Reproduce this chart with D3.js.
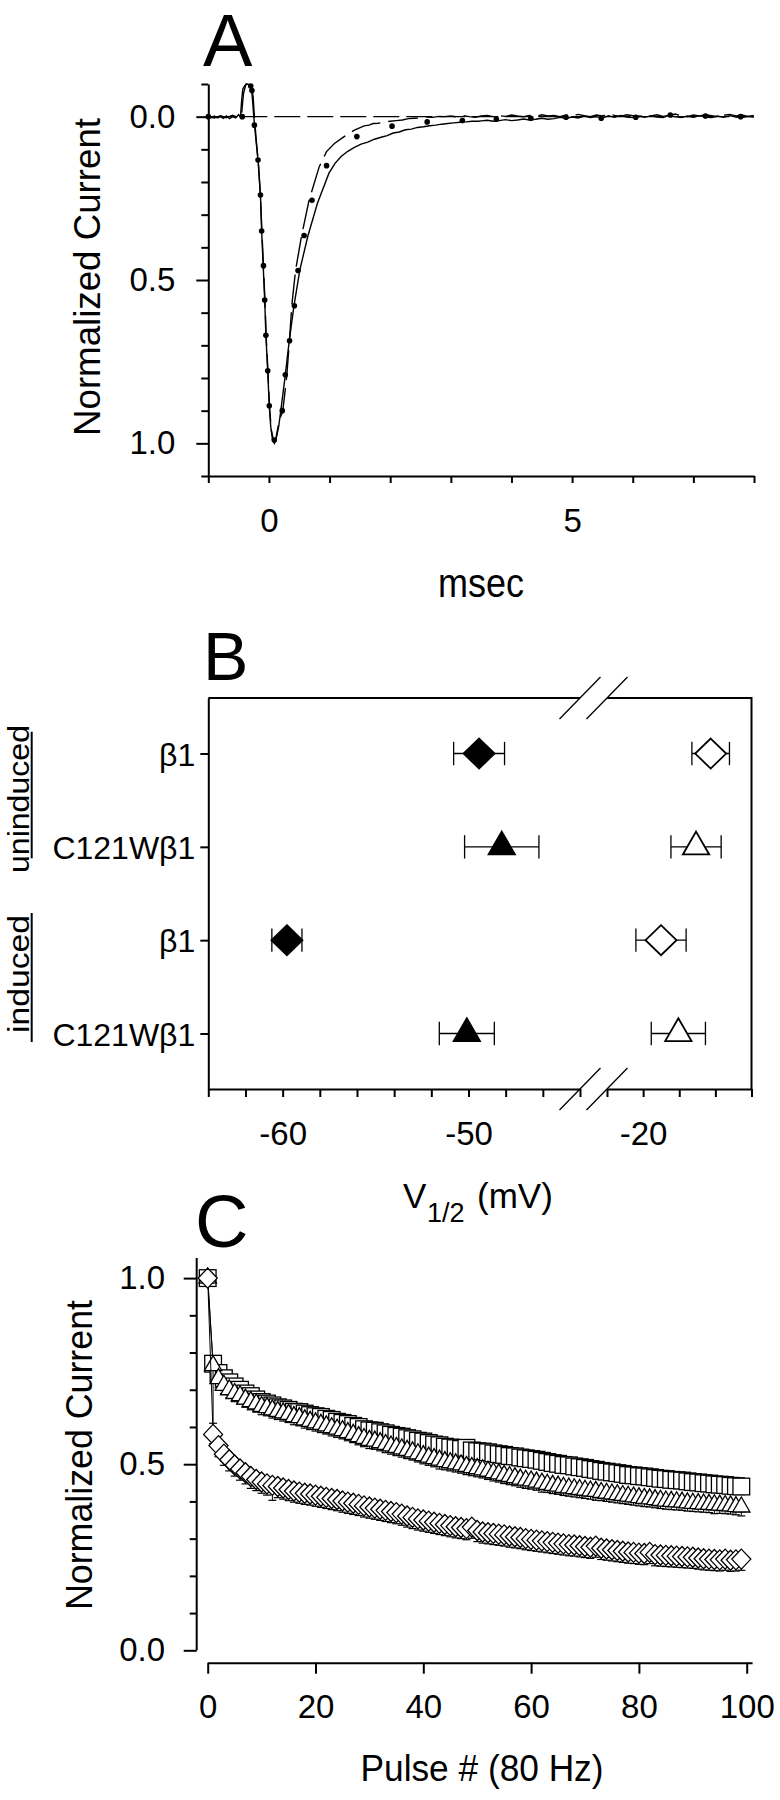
<!DOCTYPE html>
<html><head><meta charset="utf-8">
<script src="https://cdn.jsdelivr.net/npm/d3@7"></script>
<style>
body{margin:0;background:#fff}
svg{display:block;background:#fff}
text{font-family:"Liberation Sans",Arial,Helvetica,sans-serif;fill:#000}
</style>
</head><body>
<svg id="fig" width="780" height="1800"></svg>
<script>
// ---------------- DATA ----------------
// Panel A: normalized current traces (msec, normalized current; positive = inward, plotted downward)
const slowT = [-1.0,-0.95,-0.9,-0.85,-0.8,-0.75,-0.7,-0.65,-0.6,-0.55,-0.5,-0.47,-0.45,-0.43,-0.40,-0.36,-0.32,-0.29,-0.27,-0.25,-0.22,-0.18,-0.14,-0.12,-0.095,-0.07,-0.05,-0.02,0.005,0.03,0.06,0.09,0.12,0.16,0.19,0.26,0.33,0.41,0.51,0.64,0.80,0.99,1.09,1.19,1.30,1.41,1.52,1.63,1.74,1.85,1.95,2.05,2.15,2.25,2.35,2.45,2.55,2.65,2.75,2.85,2.95,3.05,3.15,3.25,3.35,3.45,3.5,3.6,3.7,3.8,3.9,4.0,4.1,4.2,4.3,4.4,4.5,4.6,4.7,4.8,4.9,5.0,5.1,5.2,5.3,5.4,5.5,5.6,5.7,5.8,5.9,6.0,6.1,6.2,6.3,6.4,6.5,6.6,6.7,6.8,6.9,7.0,7.1,7.2,7.3,7.4,7.5,7.6,7.7,7.8,7.9,8.0];
const slowI = [0.0,0.003,-0.002,0.004,0.0,0.005,-0.002,0.006,0.0,0.004,-0.006,0.002,-0.05,-0.085,-0.095,-0.1,-0.098,-0.09,-0.05,0.0,0.06,0.135,0.24,0.35,0.455,0.56,0.67,0.78,0.885,0.95,0.99,1.0,0.985,0.95,0.908,0.806,0.694,0.582,0.469,0.367,0.265,0.173,0.143,0.122,0.106,0.094,0.084,0.078,0.069,0.063,0.058,0.050,0.047,0.040,0.038,0.033,0.031,0.028,0.026,0.023,0.021,0.019,0.017,0.016,0.014,0.014,0.013,0.011,0.014,0.012,0.009,0.012,0.010,0.007,0.010,0.008,0.005,0.008,0.006,0.002,0.005,0.001,0.004,-0.002,0.003,0.000,0.004,-0.003,0.002,-0.004,0.001,0.003,-0.002,0.002,-0.003,0.001,0.003,-0.004,0.000,0.003,-0.002,0.002,-0.003,0.001,0.003,-0.002,0.002,-0.003,0.001,0.003,-0.001,0.001];
const fastT = [-1.0,-0.9,-0.8,-0.7,-0.6,-0.5,-0.45,-0.42,-0.38,-0.33,-0.29,-0.26,-0.24,-0.21,-0.17,-0.14,-0.115,-0.09,-0.065,-0.045,-0.015,0.01,0.04,0.08,0.11,0.15,0.19,0.227,0.293,0.337,0.376,0.44,0.536,0.663,0.83,0.95,1.08,1.24,1.41,1.57,1.65,1.72,1.8,1.9,2.0,2.1,2.2,2.3,2.4,2.5,2.6,2.7,2.8,2.9,3.0,3.1,3.2,3.3,3.4,3.5,3.6,3.7,3.8,3.9,4.0,4.1,4.2,4.3,4.4,4.5,4.6,4.7,4.8,4.9,5.0,5.1,5.2,5.3,5.4,5.5,5.6,5.7,5.8,5.9,6.0,6.1,6.2,6.3,6.4,6.5,6.6,6.7,6.8,6.9,7.0,7.1,7.2,7.3,7.4,7.5,7.6,7.7,7.8,7.9,8.0];
const fastI = [0.0,0.004,-0.003,0.003,-0.004,0.003,-0.01,-0.07,-0.1,-0.102,-0.095,-0.06,0.0,0.07,0.15,0.245,0.355,0.46,0.565,0.675,0.785,0.89,0.96,0.995,0.99,0.95,0.92,0.903,0.796,0.689,0.58,0.469,0.367,0.255,0.153,0.107,0.082,0.061,0.041,0.028,0.026,0.021,0.020,0.017,0.014,0.012,0.010,0.006,0.005,0.004,0.001,0.002,-0.001,0.000,-0.002,0.001,-0.003,0.000,0.002,-0.002,-0.004,0.000,-0.003,-0.001,-0.005,-0.002,0.000,-0.004,-0.001,-0.006,-0.002,-0.004,0.000,-0.005,-0.002,-0.007,-0.003,0.000,-0.005,-0.002,-0.008,-0.004,-0.001,-0.006,-0.003,0.000,-0.005,-0.002,-0.006,-0.001,-0.004,-0.008,-0.003,0.000,-0.005,-0.002,-0.006,-0.003,0.000,-0.004,-0.007,-0.002,-0.005,-0.001,-0.004];
const dotT = [-1.0,-0.44,-0.30,-0.28,-0.24,-0.18,-0.14,-0.12,-0.09,-0.07,-0.05,-0.02,0.006,0.088,0.22,0.27,0.34,0.42,0.48,0.58,0.71,0.95,1.45,2.03,2.61,3.19,3.75,4.32,4.9,5.48,6.05,6.62,7.2,7.78];
const dotI = [0.0,0.0,-0.094,-0.08,0.026,0.133,0.24,0.35,0.456,0.561,0.669,0.778,0.885,0.99,0.90,0.79,0.686,0.579,0.471,0.364,0.256,0.15,0.061,0.029,0.016,0.012,0.008,0.005,0.002,0.005,0.002,-0.005,-0.002,0.0];
const aYMajor = [0, 0.5, 1.0];
const aYMinor = [-0.1,0.1,0.2,0.3,0.4,0.6,0.7,0.8,0.9,1.1];
const aXTicks = [-1,0,1,2,3,4,5,6,7,8];
const aXLabels = [0, 5];

// Panel B: V1/2 (mV), activation (filled) and inactivation (open)
const rowLabels = ["β1","C121Wβ1","β1","C121Wβ1"];
const rowShape  = ["diamond","triangle","diamond","triangle"];
const actMean   = [-49.43,-48.21,-59.77,-50.09];
const actErr    = [1.37,2.0,0.81,1.48];
const inactMean = [-16.26,-17.07,-19.01,-18.05];
const inactErr  = [1.04,1.39,1.39,1.5];
const bLeftTicks = [-64,-62,-60,-58,-56,-54,-52,-50,-48,-46,-44];
const bRightTicks = [-22,-20,-18,-16,-14];
const bTickLabels = [-60,-50,-20];

// Panel C: normalized current vs pulse number (80 Hz)
const pulses = d3.range(0, 100);
const sqMean = [1.000,0.770,0.745,0.731,0.720,0.709,0.700,0.690,0.683,0.674,0.667,0.663,0.658,0.653,0.650,0.646,0.641,0.640,0.636,0.632,
0.629,0.627,0.622,0.619,0.614,0.611,0.608,0.603,0.600,0.594,0.591,0.590,0.586,0.583,0.579,0.576,0.574,0.570,0.567,0.563,
0.561,0.557,0.553,0.551,0.547,0.545,0.543,0.541,0.544,0.537,0.535,0.534,0.532,0.529,0.527,0.525,0.522,0.521,0.518,0.516,
0.514,0.512,0.509,0.506,0.503,0.501,0.498,0.497,0.494,0.492,0.490,0.487,0.485,0.482,0.480,0.478,0.476,0.474,0.471,0.470,
0.468,0.467,0.465,0.463,0.461,0.460,0.458,0.457,0.456,0.454,0.452,0.451,0.449,0.448,0.446,0.445,0.444,0.442,0.441,0.440];
const trMean = [1.000,0.765,0.730,0.712,0.700,0.690,0.684,0.675,0.668,0.662,0.655,0.652,0.646,0.642,0.638,0.634,0.628,0.625,0.619,0.615,
0.611,0.607,0.603,0.598,0.594,0.590,0.585,0.580,0.574,0.569,0.564,0.562,0.558,0.553,0.549,0.545,0.541,0.537,0.533,0.528,
0.523,0.519,0.515,0.511,0.507,0.504,0.501,0.498,0.494,0.491,0.488,0.485,0.481,0.477,0.474,0.470,0.467,0.464,0.460,0.457,
0.455,0.452,0.449,0.446,0.443,0.441,0.438,0.436,0.434,0.432,0.430,0.428,0.427,0.424,0.422,0.420,0.418,0.416,0.414,0.412,
0.410,0.408,0.407,0.405,0.403,0.401,0.400,0.399,0.398,0.396,0.395,0.394,0.393,0.392,0.391,0.390,0.389,0.388,0.386,0.385];
const dmMean = [1.000,0.580,0.550,0.527,0.512,0.498,0.487,0.477,0.467,0.459,0.452,0.447,0.443,0.440,0.436,0.432,0.428,0.425,0.422,0.420,
0.417,0.414,0.411,0.408,0.405,0.401,0.398,0.395,0.392,0.388,0.385,0.382,0.379,0.376,0.373,0.370,0.366,0.361,0.357,0.353,
0.350,0.347,0.344,0.341,0.338,0.335,0.332,0.330,0.327,0.331,0.322,0.318,0.316,0.314,0.312,0.310,0.307,0.305,0.303,0.300,
0.298,0.296,0.294,0.292,0.290,0.288,0.286,0.284,0.283,0.281,0.279,0.277,0.280,0.274,0.272,0.270,0.268,0.266,0.264,0.263,
0.261,0.260,0.263,0.257,0.256,0.255,0.254,0.253,0.252,0.251,0.250,0.248,0.246,0.245,0.244,0.243,0.245,0.242,0.243,0.245];
const sqErr = [0,0.02,0.02,0.02,0.02,0.02,0.02,0.02,0.02,0.02,0.02,0.02,0.02,0.02,0.02,0.02,0.02,0.02,0.02,0.02,
0.02,0.02,0.02,0.02,0.02,0.02,0.02,0.02,0.02,0.02,0.02,0.02,0.02,0.02,0.02,0.02,0.02,0.02,0.02,0.02,
0.02,0.02,0.02,0.02,0.02,0.02,0.02,0.02,0.02,0.02,0.02,0.02,0.02,0.02,0.02,0.02,0.02,0.02,0.02,0.02,
0.02,0.02,0.02,0.02,0.02,0.02,0.02,0.02,0.02,0.02,0.02,0.02,0.02,0.02,0.02,0.02,0.02,0.02,0.02,0.02,
0.02,0.02,0.02,0.02,0.02,0.02,0.02,0.02,0.02,0.02,0.02,0.02,0.02,0.02,0.02,0.02,0.02,0.02,0.02,0.02];
const trErr = [0,0.155,0.025,0.022,0.022,0.022,0.022,0.022,0.022,0.022,0.022,0.022,0.022,0.022,0.022,0.022,0.022,0.022,0.022,0.022,
0.022,0.022,0.022,0.022,0.022,0.022,0.022,0.022,0.022,0.022,0.022,0.022,0.022,0.022,0.022,0.022,0.022,0.022,0.022,0.022,
0.022,0.022,0.022,0.024,0.022,0.022,0.022,0.022,0.022,0.022,0.022,0.022,0.022,0.022,0.022,0.022,0.022,0.022,0.022,0.022,
0.022,0.022,0.024,0.022,0.022,0.022,0.022,0.022,0.022,0.022,0.022,0.022,0.024,0.022,0.022,0.022,0.022,0.022,0.022,0.022,
0.022,0.022,0.022,0.022,0.022,0.022,0.022,0.022,0.022,0.022,0.022,0.022,0.022,0.022,0.024,0.022,0.022,0.022,0.022,0.024];
const dmErr = [0,0.025,0.03,0.03,0.03,0.03,0.03,0.03,0.032,0.03,0.03,0.03,0.04,0.03,0.03,0.03,0.03,0.03,0.03,0.03,
0.03,0.03,0.03,0.03,0.03,0.03,0.03,0.03,0.03,0.03,0.03,0.03,0.03,0.03,0.03,0.03,0.03,0.03,0.03,0.03,
0.03,0.03,0.03,0.03,0.03,0.03,0.03,0.03,0.03,0.03,0.03,0.03,0.03,0.03,0.03,0.03,0.03,0.03,0.03,0.03,
0.03,0.03,0.03,0.03,0.03,0.03,0.03,0.03,0.03,0.03,0.03,0.03,0.03,0.03,0.03,0.03,0.03,0.03,0.03,0.03,
0.03,0.03,0.03,0.03,0.03,0.03,0.03,0.03,0.03,0.03,0.03,0.03,0.03,0.03,0.03,0.03,0.03,0.03,0.03,0.03];
const cYMajor = [0, 0.5, 1.0];
const cYMinor = [0.1,0.2,0.3,0.4,0.6,0.7,0.8,0.9];
const cXTicks = [0,20,40,60,80,100];

// ---------------- DRAWING ----------------
const FONT = '"Liberation Sans", Arial, Helvetica, sans-serif';
const svg = d3.select("#fig");
svg.append("rect").attr("width",780).attr("height",1800).attr("fill","#fff");

function styleAxis(g, fs){
  g.attr("font-family", FONT).attr("font-size", fs);
  g.selectAll("path.domain").attr("stroke","#000").attr("stroke-width",2);
  g.selectAll(".tick line").attr("stroke","#000").attr("stroke-width",2);
  g.selectAll("text").attr("fill","#000");
}
function zip(a,b){ return a.map((v,i)=>[v,b[i]]); }

// ===== Panel A =====
const xA = d3.scaleLinear().domain([-1, 8]).range([208.3, 754]);
const yA = d3.scaleLinear().domain([-0.1, 1.1]).range([84, 476]);
const gA = svg.append("g");

gA.append("text").attr("x",203).attr("y",66).attr("font-size",74).text("A");

const gAy = gA.append("g").attr("transform",`translate(${xA(-1)},0)`)
  .call(d3.axisLeft(yA).tickValues(aYMajor).tickSize(12).tickSizeOuter(0).tickPadding(21).tickFormat(d3.format(".1f")));
styleAxis(gAy, 33);
const gAym = gA.append("g").attr("transform",`translate(${xA(-1)},0)`)
  .call(d3.axisLeft(yA).tickValues(aYMinor).tickSize(7).tickFormat(""));
gAym.select(".domain").remove(); styleAxis(gAym, 33);

const gAx = gA.append("g").attr("transform",`translate(0,${yA(1.1)})`)
  .call(d3.axisBottom(xA).tickValues(aXTicks).tickSize(7).tickSizeOuter(0)
    .tickFormat(d => aXLabels.includes(d) ? String(d) : ""));
styleAxis(gAx, 33);
gAx.selectAll("text").attr("y", 55.7).attr("dy", 0);

gA.append("line").attr("x1",xA(-1)).attr("x2",xA(8)).attr("y1",yA(0)).attr("y2",yA(0))
  .attr("stroke","#000").attr("stroke-width",1.3).attr("stroke-dasharray","26,7");

const lineA = d3.line().x(d=>xA(d[0])).y(d=>yA(d[1]));
gA.append("path").datum(zip(slowT, slowI)).attr("d", lineA)
  .attr("fill","none").attr("stroke","#000").attr("stroke-width",1.4);
gA.append("path").datum(zip(fastT, fastI)).attr("d", lineA)
  .attr("fill","none").attr("stroke","#000").attr("stroke-width",1.4).attr("stroke-dasharray","30,8");
gA.selectAll("circle.dot").data(zip(dotT, dotI)).join("circle").attr("class","dot")
  .attr("cx",d=>xA(d[0])).attr("cy",d=>yA(d[1])).attr("r",2.8).attr("fill","#000");

gA.append("text").attr("transform","translate(100,277) rotate(-90)").attr("text-anchor","middle")
  .attr("font-size",37).attr("textLength",318).attr("lengthAdjust","spacingAndGlyphs").text("Normalized Current");
gA.append("text").attr("x",481).attr("y",597).attr("text-anchor","middle")
  .attr("font-size",40).attr("textLength",86).attr("lengthAdjust","spacingAndGlyphs").text("msec");

// ===== Panel B =====
const yB = d3.scalePoint().domain([0,1,2,3]).range([698, 1089]).padding(0.595);
const xBL = d3.scaleLinear().domain([-64, -44]).range([208.3, 580]);
const xBR = d3.scaleLinear().domain([-22, -14]).range([607, 751.5]);
const gB = svg.append("g");
gB.append("text").attr("x",203).attr("y",680).attr("font-size",68).text("B");

const gBy = gB.append("g").attr("transform",`translate(${xBL(-64)},0)`)
  .call(d3.axisLeft(yB).tickSize(8).tickSizeOuter(0).tickPadding(5).tickFormat(i=>rowLabels[i]));
styleAxis(gBy, 32);
gBy.selectAll("text").attr("dy","0.36em");

const yBot = 1089, yTop = 698;
const gBxl = gB.append("g").attr("transform",`translate(0,${yBot})`)
  .call(d3.axisBottom(xBL).tickValues(bLeftTicks).tickSize(8).tickSizeOuter(0)
    .tickFormat(d => bTickLabels.includes(d) ? String(d) : ""));
styleAxis(gBxl, 33); gBxl.selectAll("text").attr("y",56).attr("dy",0);
const gBxr = gB.append("g").attr("transform",`translate(0,${yBot})`)
  .call(d3.axisBottom(xBR).tickValues(bRightTicks).tickSize(8).tickSizeOuter(0)
    .tickFormat(d => bTickLabels.includes(d) ? String(d) : ""));
styleAxis(gBxr, 33); gBxr.selectAll("text").attr("y",56).attr("dy",0);

// frame: top (broken) and right
[[xBL(-64), xBL(-44)], [xBR(-22), xBR(-14)]].forEach(s => {
  gB.append("line").attr("x1",s[0]).attr("x2",s[1]).attr("y1",yTop).attr("y2",yTop)
    .attr("stroke","#000").attr("stroke-width",2);
});
gB.append("line").attr("x1",xBR(-14)).attr("x2",xBR(-14)).attr("y1",yTop-1).attr("y2",yBot)
  .attr("stroke","#000").attr("stroke-width",2);
// break marks
[yTop, yBot].forEach(yy => {
  [xBL(-44), xBR(-22)].forEach(cx => {
    gB.append("line").attr("x1",cx-20.5).attr("y1",yy+21).attr("x2",cx+20.5).attr("y2",yy-21)
      .attr("stroke","#000").attr("stroke-width",1.3);
  });
});

function diamondPath(x,y,hw,hh){ return `M${x},${y-hh}L${x+hw},${y}L${x},${y+hh}L${x-hw},${y}Z`; }
const triSymB = d3.symbol(d3.symbolTriangle, 300);
function drawBPoint(scale, mean, err, i, filled){
  const y = yB(i), x = scale(mean), x0 = scale(mean-err), x1 = scale(mean+err);
  gB.append("line").attr("x1",x0).attr("x2",x1).attr("y1",y).attr("y2",y).attr("stroke","#000").attr("stroke-width",1.3);
  [x0,x1].forEach(xx => gB.append("line").attr("x1",xx).attr("x2",xx).attr("y1",y-11.7).attr("y2",y+11.7)
    .attr("stroke","#000").attr("stroke-width",1.3));
  if (rowShape[i] === "diamond") {
    gB.append("path").attr("d", diamondPath(x,y,15.5,15)).attr("fill", filled?"#000":"#fff")
      .attr("stroke","#000").attr("stroke-width",1.8);
  } else {
    gB.append("path").attr("d", triSymB()).attr("transform",`translate(${x},${y})`)
      .attr("fill", filled?"#000":"#fff").attr("stroke","#000").attr("stroke-width",1.8);
  }
}
rowLabels.forEach((_, i) => {
  drawBPoint(xBL, actMean[i], actErr[i], i, true);
  drawBPoint(xBR, inactMean[i], inactErr[i], i, false);
});

// group labels
gB.append("text").attr("transform","translate(29,799) rotate(-90)").attr("text-anchor","middle")
  .attr("font-size",30).attr("textLength",148).attr("lengthAdjust","spacingAndGlyphs").text("uninduced");
gB.append("line").attr("x1",31.7).attr("x2",31.7).attr("y1",731.7).attr("y2",858.3).attr("stroke","#000").attr("stroke-width",2);
gB.append("text").attr("transform","translate(29,974) rotate(-90)").attr("text-anchor","middle")
  .attr("font-size",30).attr("textLength",118).attr("lengthAdjust","spacingAndGlyphs").text("induced");
gB.append("line").attr("x1",31.7).attr("x2",31.7).attr("y1",913).attr("y2",1042).attr("stroke","#000").attr("stroke-width",2);

// x label V1/2 (mV)
const vl = gB.append("text").attr("y",1208).attr("font-size",35);
vl.append("tspan").attr("x",403).text("V");
vl.append("tspan").attr("x",427).attr("dy",14).attr("font-size",27).text("1/2");
vl.append("tspan").attr("x",477).attr("dy",-14).text("(mV)");

// ===== Panel C =====
const xC = d3.scaleLinear().domain([0, 101]).range([207.7, 752.1]);
const yC = d3.scaleLinear().domain([0, 1.054]).range([1650.3, 1258]);
const gC = svg.append("g");
gC.append("text").attr("x",195).attr("y",1247).attr("font-size",74).text("C");

const gCy = gC.append("g").attr("transform","translate(196.7,0)")
  .call(d3.axisLeft(yC).tickValues(cYMajor).tickSize(13).tickSizeOuter(0).tickPadding(18.7).tickFormat(d3.format(".1f")));
styleAxis(gCy, 33);
gCy.select(".domain").attr("d", `M0,${yC(1.054)}V${yC(0)}`);
const gCym = gC.append("g").attr("transform","translate(196.7,0)")
  .call(d3.axisLeft(yC).tickValues(cYMinor).tickSize(7).tickFormat(""));
gCym.select(".domain").remove(); styleAxis(gCym, 33);

const gCx = gC.append("g").attr("transform","translate(0,1662.7)")
  .call(d3.axisBottom(xC).tickValues(cXTicks).tickSize(11).tickSizeOuter(0));
styleAxis(gCx, 33); gCx.selectAll("text").attr("y",55.3).attr("dy",0);

gC.append("text").attr("transform","translate(92,1455) rotate(-90)").attr("text-anchor","middle")
  .attr("font-size",37).attr("textLength",310).attr("lengthAdjust","spacingAndGlyphs").text("Normalized Current");
gC.append("text").attr("x",482).attr("y",1781).attr("text-anchor","middle")
  .attr("font-size",37).attr("textLength",243).attr("lengthAdjust","spacingAndGlyphs").text("Pulse # (80 Hz)");

const lineC = d3.line().x(d=>xC(d[0])).y(d=>yC(d[1]));
const triSymC = d3.symbol(d3.symbolTriangle, 130);
function drawSeries(mean, err, shape){
  const data = pulses.map(p => ({p, m: mean[p], e: err[p]}));
  gC.append("path").datum(data.map(d=>[d.p,d.m])).attr("d",lineC)
    .attr("fill","none").attr("stroke","#000").attr("stroke-width",1);
  const g = gC.append("g");
  data.forEach(d => {
    const x = xC(d.p), y = yC(d.m), y2 = yC(d.m - d.e);
    if (d.e > 0) {
      g.append("line").attr("x1",x).attr("x2",x).attr("y1",y).attr("y2",y2).attr("stroke","#000").attr("stroke-width",1);
      g.append("line").attr("x1",x-4).attr("x2",x+4).attr("y1",y2).attr("y2",y2).attr("stroke","#000").attr("stroke-width",1.2);
    }
  });
  data.forEach(d => {
    const x = xC(d.p), y = yC(d.m);
    let el;
    if (shape === "square") el = g.append("rect").attr("x",x-8.35).attr("y",y-8.35).attr("width",16.7).attr("height",16.7);
    else if (shape === "triangle") el = g.append("path").attr("d",triSymC()).attr("transform",`translate(${x},${y})`);
    else el = g.append("path").attr("d",diamondPath(x,y,9.5,10));
    el.attr("fill","#fff").attr("stroke","#000").attr("stroke-width",1.3);
  });
}
drawSeries(sqMean, sqErr, "square");
drawSeries(trMean, trErr, "triangle");
drawSeries(dmMean, dmErr, "diamond");
</script>
</body></html>
